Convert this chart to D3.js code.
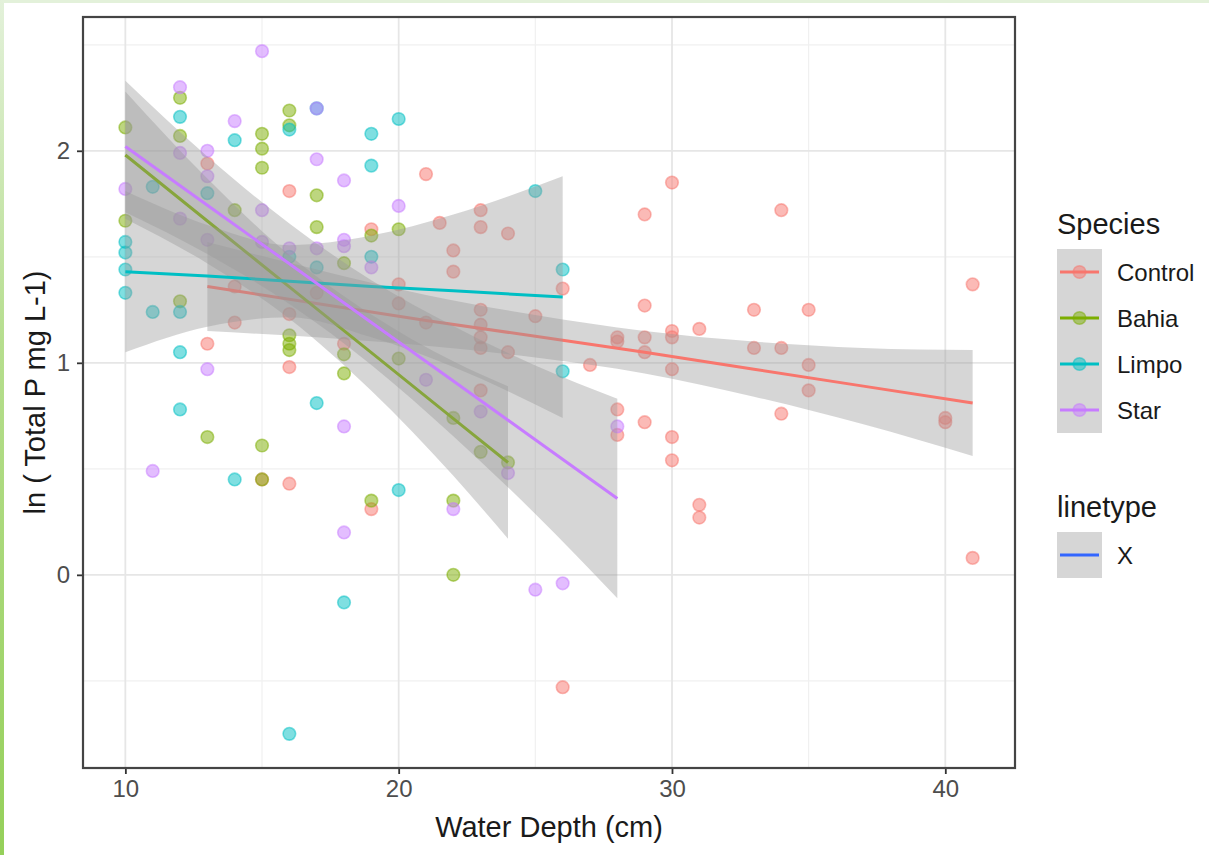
<!DOCTYPE html>
<html>
<head>
<meta charset="utf-8">
<script src="https://cdn.jsdelivr.net/npm/d3@7"></script>
<style>
  body { margin: 0; background: #fff; }
  svg { display: block; font-family: "Liberation Sans", Arial, sans-serif; }
</style>
</head>
<body>
<div id="viz"></div>
<script>
/*global d3 */
// points: [water depth, ln total P]
var controlPts = [
    [13, 1.94], [13, 1.09], [14, 1.19], [14, 1.36], [15, 0.45], [16, 1.81], [16, 1.23], [16, 0.98],
    [16, 0.43], [17, 1.33], [18, 1.09], [19, 1.63], [19, 0.31], [20, 1.37], [20, 1.28], [21, 1.89],
    [21, 1.19], [21.5, 1.66], [22, 1.53], [22, 1.43], [23, 1.72], [23, 1.64], [23, 1.25], [23, 1.18],
    [23, 1.12], [23, 1.07], [23, 0.87], [24, 1.61], [24, 1.05], [25, 1.22], [26, 1.35], [26, -0.53],
    [27, 0.99], [28, 1.12], [28, 1.10], [28, 0.78], [28, 0.66], [29, 1.70], [29, 1.27], [29, 1.12],
    [29, 1.05], [29, 0.72], [30, 1.85], [30, 1.15], [30, 1.12], [30, 0.97], [30, 0.65], [30, 0.54],
    [31, 1.16], [31, 0.33], [31, 0.27], [33, 1.25], [33, 1.07], [34, 1.72], [34, 1.07], [34, 0.76],
    [35, 1.25], [35, 0.99], [35, 0.87], [40, 0.74], [40, 0.72], [41, 1.37], [41, 0.08]
];
var bahiaPts = [
    [10, 2.11], [10, 1.67], [12, 2.25], [12, 2.07], [12, 1.29], [13, 0.65], [14, 1.72], [15, 2.08],
    [15, 2.01], [15, 1.92], [15, 0.61], [15, 0.45], [16, 2.19], [16, 2.12], [16, 1.13], [16, 1.09],
    [16, 1.06], [17, 1.79], [17, 1.64], [18, 1.47], [18, 1.04], [18, 0.95], [19, 1.60], [19, 0.35],
    [20, 1.63], [20, 1.02], [22, 0.74], [22, 0.35], [22, 0.0], [23, 0.58], [24, 0.53]
];
var limpoPts = [
    [10, 1.57], [10, 1.52], [10, 1.44], [10, 1.33], [11, 1.83], [11, 1.24], [12, 2.16], [12, 1.24],
    [12, 1.05], [12, 0.78], [13, 1.80], [14, 2.05], [14, 0.45], [16, 2.10], [16, 1.50], [16, -0.75],
    [17, 2.20], [17, 1.45], [17, 0.81], [18, -0.13], [19, 2.08], [19, 1.93], [19, 1.50], [20, 2.15],
    [20, 0.40], [25, 1.81], [26, 1.44], [26, 0.96]
];
var starPts = [
    [10, 1.82], [11, 0.49], [12, 2.30], [12, 1.99], [12, 1.68], [13, 2.00], [13, 1.88], [13, 1.58],
    [13, 0.97], [14, 2.14], [15, 2.47], [15, 1.72], [15, 1.57], [16, 1.54], [17, 2.20], [17, 1.96],
    [17, 1.54], [18, 1.86], [18, 1.58], [18, 1.55], [18, 0.70], [18, 0.20], [19, 1.45], [20, 1.74],
    [21, 0.92], [22, 0.31], [23, 0.77], [24, 0.48], [25, -0.07], [26, -0.04], [28, 0.70]
];

// fitted lines and confidence bands
var controlFitX = [13, 17, 21, 25, 29, 33, 37, 41],
    controlFitY = [1.36, 1.28, 1.20, 1.125, 1.05, 0.97, 0.89, 0.81],
    controlFitLo = [1.15, 1.12, 1.08, 1.025, 0.95, 0.84, 0.71, 0.56],
    controlFitHi = [1.57, 1.44, 1.32, 1.225, 1.15, 1.10, 1.07, 1.06];
var bahiaFitX = [10, 13, 16, 19, 22, 24],
    bahiaFitY = [1.98, 1.669, 1.358, 1.048, 0.737, 0.53],
    bahiaFitLo = [1.68, 1.469, 1.208, 0.868, 0.467, 0.17],
    bahiaFitHi = [2.28, 1.869, 1.508, 1.228, 1.007, 0.89];
var limpoFitX = [10, 13, 16, 19, 22, 26],
    limpoFitY = [1.43, 1.41, 1.385, 1.36, 1.34, 1.31],
    limpoFitLo = [1.05, 1.17, 1.215, 1.12, 0.98, 0.74],
    limpoFitHi = [1.81, 1.65, 1.555, 1.60, 1.70, 1.88];
var starFitX = [10, 13, 16, 19, 22, 25, 28],
    starFitY = [2.02, 1.743, 1.467, 1.19, 0.914, 0.637, 0.36],
    starFitLo = [1.71, 1.513, 1.277, 0.99, 0.654, 0.287, -0.11],
    starFitHi = [2.33, 1.973, 1.657, 1.39, 1.174, 0.987, 0.83];

var speciesNames = ['Control', 'Bahia', 'Limpo', 'Star'],
    speciesColors = ['#F8766D', '#7CAE00', '#00BFC4', '#C77CFF'];
var linetypeNames = ['X'];

var xTicks = [10, 20, 30, 40],
    xMinor = [15, 25, 35],
    yTicks = [0, 1, 2],
    yMinor = [-0.5, 0.5, 1.5, 2.5];

(function () {
    'use strict';

    var W = 1209, H = 855,
        panel = { left: 83, right: 1015, top: 17, bottom: 768 };

    var pointSets = [controlPts, bahiaPts, limpoPts, starPts],
        fits = [
            { x: controlFitX, y: controlFitY, lo: controlFitLo, hi: controlFitHi },
            { x: bahiaFitX, y: bahiaFitY, lo: bahiaFitLo, hi: bahiaFitHi },
            { x: limpoFitX, y: limpoFitY, lo: limpoFitLo, hi: limpoFitHi },
            { x: starFitX, y: starFitY, lo: starFitLo, hi: starFitHi }
        ];

    var allPts = d3.merge(pointSets),
        xExt = d3.extent(allPts, function (d) { return d[0]; }),
        yExt = d3.extent(allPts, function (d) { return d[1]; }),
        xPad = (xExt[1] - xExt[0]) * 0.05,
        yPad = (yExt[1] - yExt[0]) * 0.05;

    var x = d3.scaleLinear().domain([xExt[0] - xPad, xExt[1] + xPad]).range([panel.left, panel.right]),
        y = d3.scaleLinear().domain([yExt[0] - yPad, yExt[1] + yPad]).range([panel.bottom, panel.top]);

    var svg = d3.select('#viz').append('svg').attr('width', W).attr('height', H);

    // green frame bits of the screenshot
    var grad = svg.append('defs').append('linearGradient')
        .attr('id', 'leftbar').attr('x1', 0).attr('y1', 0).attr('x2', 0).attr('y2', 1);
    grad.append('stop').attr('offset', '0%').attr('stop-color', '#e3f1da');
    grad.append('stop').attr('offset', '40%').attr('stop-color', '#b6de8e');
    grad.append('stop').attr('offset', '100%').attr('stop-color', '#95d05a');
    svg.append('rect').attr('x', 0).attr('y', 0).attr('width', W).attr('height', 3).attr('fill', '#e3f1da');
    svg.append('rect').attr('x', 0).attr('y', 0).attr('width', 4).attr('height', H).attr('fill', 'url(#leftbar)');

    // grid
    var grid = svg.append('g');
    grid.selectAll('.xminor').data(xMinor).enter().append('line')
        .attr('x1', x).attr('x2', x).attr('y1', panel.top).attr('y2', panel.bottom)
        .attr('stroke', '#f0f0f0').attr('stroke-width', 1.2);
    grid.selectAll('.yminor').data(yMinor).enter().append('line')
        .attr('y1', y).attr('y2', y).attr('x1', panel.left).attr('x2', panel.right)
        .attr('stroke', '#f0f0f0').attr('stroke-width', 1.2);
    grid.selectAll('.xmajor').data(xTicks).enter().append('line')
        .attr('x1', x).attr('x2', x).attr('y1', panel.top).attr('y2', panel.bottom)
        .attr('stroke', '#e6e6e6').attr('stroke-width', 1.8);
    grid.selectAll('.ymajor').data(yTicks).enter().append('line')
        .attr('y1', y).attr('y2', y).attr('x1', panel.left).attr('x2', panel.right)
        .attr('stroke', '#e6e6e6').attr('stroke-width', 1.8);

    // points
    pointSets.forEach(function (pts, i) {
        svg.append('g').selectAll('circle').data(pts).enter().append('circle')
            .attr('cx', function (d) { return x(d[0]); })
            .attr('cy', function (d) { return y(d[1]); })
            .attr('r', 6.3)
            .attr('fill', speciesColors[i]).attr('fill-opacity', 0.5)
            .attr('stroke', speciesColors[i]).attr('stroke-opacity', 0.5).attr('stroke-width', 1.6);
    });

    // smooths: band then line for each group
    var area = d3.area()
            .x(function (d) { return x(d.x); })
            .y0(function (d) { return y(d.lo); })
            .y1(function (d) { return y(d.hi); })
            .curve(d3.curveMonotoneX),
        line = d3.line()
            .x(function (d) { return x(d.x); })
            .y(function (d) { return y(d.y); });

    fits.forEach(function (f, i) {
        var rows = f.x.map(function (v, j) { return { x: v, y: f.y[j], lo: f.lo[j], hi: f.hi[j] }; });
        svg.append('path').datum(rows).attr('d', area)
            .attr('fill', '#999999').attr('fill-opacity', 0.4);
        svg.append('path').datum(rows).attr('d', line)
            .attr('fill', 'none').attr('stroke', speciesColors[i]).attr('stroke-width', 3);
    });

    // axes
    var xAxis = svg.append('g').attr('transform', 'translate(0,' + panel.bottom + ')')
        .call(d3.axisBottom(x).tickValues(xTicks).tickFormat(d3.format('d'))
            .tickSize(6).tickSizeOuter(0).tickPadding(6));
    var yAxis = svg.append('g').attr('transform', 'translate(' + panel.left + ',0)')
        .call(d3.axisLeft(y).tickValues(yTicks).tickFormat(d3.format('d'))
            .tickSize(6).tickSizeOuter(0).tickPadding(7));
    [xAxis, yAxis].forEach(function (a) {
        a.select('.domain').remove();
        a.selectAll('.tick line').attr('stroke', '#333').attr('stroke-width', 1.8);
        a.selectAll('.tick text').attr('fill', '#4d4d4d')
            .style('font-size', '24px').style('font-family', '"Liberation Sans", Arial, sans-serif');
    });

    // panel border
    svg.append('rect')
        .attr('x', panel.left).attr('y', panel.top)
        .attr('width', panel.right - panel.left).attr('height', panel.bottom - panel.top)
        .attr('fill', 'none').attr('stroke', '#444').attr('stroke-width', 2.2);

    // axis titles
    svg.append('text').attr('x', (panel.left + panel.right) / 2).attr('y', 837)
        .attr('text-anchor', 'middle').attr('fill', '#1a1a1a').style('font-size', '29px')
        .text('Water Depth (cm)');
    svg.append('text').attr('transform', 'translate(45,' + (panel.top + panel.bottom) / 2 + ') rotate(-90)')
        .attr('text-anchor', 'middle').attr('fill', '#1a1a1a').style('font-size', '29px')
        .text('ln ( Total P mg L-1)');

    // legends
    var keyX = 1057, keyW = 45, keyH = 46;
    var leg = svg.append('g');
    leg.append('text').attr('x', keyX).attr('y', 234).attr('fill', '#1a1a1a')
        .style('font-size', '29px').text('Species');
    var items = leg.selectAll('.sp').data(speciesNames).enter().append('g')
        .attr('transform', function (d, i) { return 'translate(' + keyX + ',' + (249 + i * keyH) + ')'; });
    items.append('rect').attr('width', keyW).attr('height', keyH).attr('fill', '#d6d6d6');
    items.append('line').attr('x1', 3).attr('x2', keyW - 3).attr('y1', keyH / 2).attr('y2', keyH / 2)
        .attr('stroke', function (d, i) { return speciesColors[i]; }).attr('stroke-width', 3);
    items.append('circle').attr('cx', keyW / 2).attr('cy', keyH / 2).attr('r', 6.3)
        .attr('fill', function (d, i) { return speciesColors[i]; }).attr('fill-opacity', 0.5)
        .attr('stroke', function (d, i) { return speciesColors[i]; }).attr('stroke-opacity', 0.5).attr('stroke-width', 1.6);
    items.append('text').attr('x', 60).attr('y', keyH / 2 + 8.5).attr('fill', '#1a1a1a')
        .style('font-size', '24px').text(function (d) { return d; });

    leg.append('text').attr('x', keyX).attr('y', 517).attr('fill', '#1a1a1a')
        .style('font-size', '29px').text('linetype');
    var lt = leg.selectAll('.lt').data(linetypeNames).enter().append('g')
        .attr('transform', function (d, i) { return 'translate(' + keyX + ',' + (532 + i * keyH) + ')'; });
    lt.append('rect').attr('width', keyW).attr('height', keyH).attr('fill', '#d6d6d6');
    lt.append('line').attr('x1', 3).attr('x2', keyW - 3).attr('y1', keyH / 2).attr('y2', keyH / 2)
        .attr('stroke', '#3366FF').attr('stroke-width', 3);
    lt.append('text').attr('x', 60).attr('y', keyH / 2 + 8.5).attr('fill', '#1a1a1a')
        .style('font-size', '24px').text(function (d) { return d; });
})();
</script>
</body>
</html>
